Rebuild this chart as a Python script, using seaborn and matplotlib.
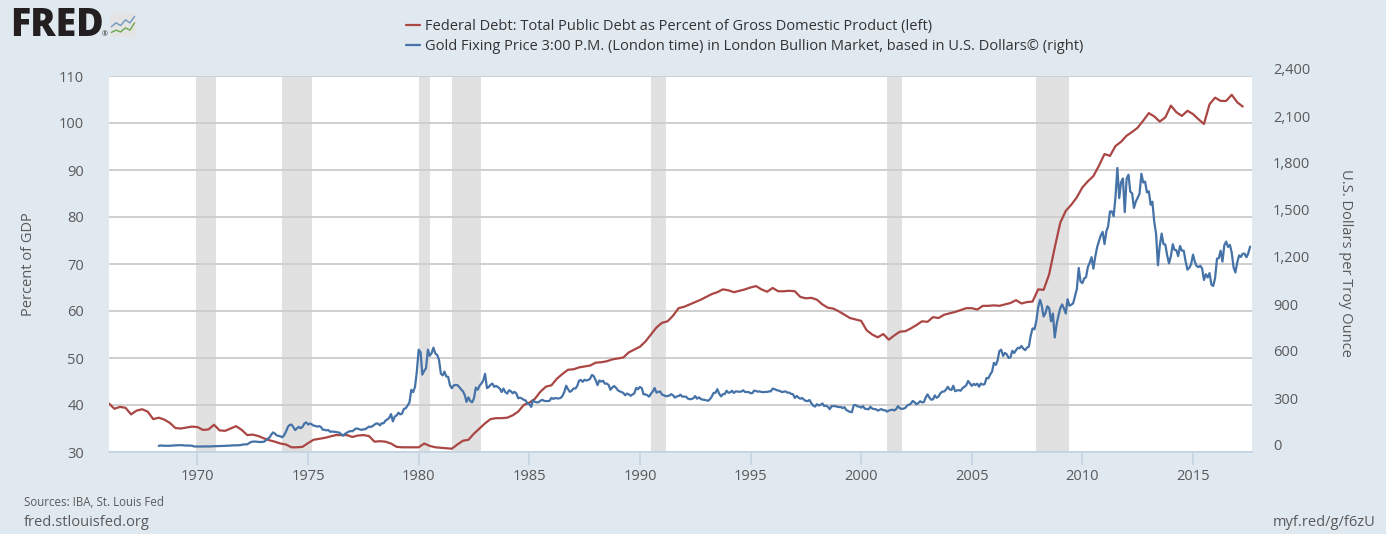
"""FRED-style chart: federal debt as % of GDP vs. London gold fixing price."""

import matplotlib
matplotlib.use("Agg")  # no display
import matplotlib.dates as mdates
import matplotlib.pyplot as plt
import pandas as pd
import seaborn as sns
from matplotlib.ticker import FuncFormatter, MultipleLocator
from matplotlib.transforms import ScaledTranslation

W, H, DPI = 1386, 534, 100

BG = "#e1e9f0"
RED = "#aa4643"
BLUE = "#4572a7"
TEXT = "#595959"
DARK = "#333333"
GRID = "#cccccc"
SHADE = "#e1e1e1"
AXIS = "#c5d3e2"

DEBT_LABEL = "Federal Debt: Total Public Debt as Percent of Gross Domestic Product (left)"
GOLD_LABEL = ("Gold Fixing Price 3:00 P.M. (London time) in London Bullion Market, "
              "based in U.S. Dollars\u00a9 (right)")

# Federal debt, % of GDP, quarterly from 1966Q1 (one row per year)
DEBT_START = "1966-01-01"
DEBT_PCT = [
    40.3, 39.2, 39.6, 39.4,   # 1966
    38.0, 38.8, 39.1, 38.6,   # 1967
    37.0, 37.3, 36.9, 36.2,   # 1968
    35.1, 35.0, 35.2, 35.4,   # 1969
    35.3, 34.7, 34.8, 35.8,   # 1970
    34.6, 34.5, 35.0, 35.5,   # 1971
    34.7, 33.6, 33.7, 33.4,   # 1972
    32.9, 32.5, 32.2, 31.8,   # 1973
    31.6, 31.0, 31.0, 31.1,   # 1974
    31.9, 32.6, 32.8, 33.0,   # 1975
    33.3, 33.6, 33.6, 33.6,   # 1976
    33.2, 33.5, 33.6, 33.4,   # 1977
    32.2, 32.3, 32.2, 31.8,   # 1978
    31.1, 31.0, 31.0, 31.0,   # 1979
    31.0, 31.8, 31.3, 31.0,   # 1980
    30.9, 30.8, 30.7, 31.6,   # 1981
    32.4, 32.6, 33.9, 35.0,   # 1982
    36.1, 37.0, 37.2, 37.2,   # 1983
    37.3, 37.8, 38.6, 40.0,   # 1984
    40.5, 41.3, 42.8, 43.9,   # 1985
    44.2, 45.6, 46.6, 47.5,   # 1986
    47.6, 48.0, 48.2, 48.4,   # 1987
    49.0, 49.1, 49.3, 49.7,   # 1988
    49.9, 50.1, 51.2, 51.8,   # 1989
    52.4, 53.5, 55.0, 56.5,   # 1990
    57.5, 57.8, 59.0, 60.6,   # 1991
    60.9, 61.4, 61.9, 62.4,   # 1992
    63.0, 63.6, 64.0, 64.6,   # 1993
    64.4, 64.0, 64.3, 64.6,   # 1994
    65.0, 65.3, 64.6, 64.1,   # 1995
    64.9, 64.2, 64.2, 64.3,   # 1996
    64.2, 63.0, 62.7, 62.8,   # 1997
    62.4, 61.4, 60.7, 60.5,   # 1998
    59.9, 59.2, 58.5, 58.2,   # 1999
    57.9, 55.9, 55.0, 54.4,   # 2000
    55.1, 53.9, 54.8, 55.6,   # 2001
    55.7, 56.3, 57.0, 57.8,   # 2002
    57.7, 58.7, 58.5, 59.2,   # 2003
    59.5, 59.8, 60.2, 60.6,   # 2004
    60.6, 60.3, 61.1, 61.1,   # 2005
    61.2, 61.1, 61.4, 61.7,   # 2006
    62.3, 61.6, 61.9, 62.0,   # 2007
    64.6, 64.5, 67.8, 73.5,   # 2008
    78.8, 81.3, 82.6, 84.2,   # 2009
    86.3, 87.6, 88.7, 90.9,   # 2010
    93.4, 93.0, 95.1, 96.0,   # 2011
    97.3, 98.1, 99.0, 100.5,  # 2012
    102.1, 101.4, 100.3, 101.2,  # 2013
    103.7, 102.3, 101.5, 102.6,  # 2014
    101.9, 100.8, 99.8, 104.0,   # 2015
    105.4, 104.7, 104.7, 106.0,  # 2016
    104.4, 103.5,                # 2017
]

# Gold fixing price, USD per troy ounce, monthly from 1968-04
GOLD_START = "1968-04-01"
GOLD_USD = [
    39.0, 41.5, 41.0, 39.5, 39.8, 39.9, 39.5, 41.0, 41.9,                 # 1968
    42.5, 42.8, 43.3, 43.3, 43.5, 41.0, 41.8, 41.0, 40.5, 40.4, 35.5, 35.2,  # 1969
    34.9, 35.0, 35.2, 35.8, 35.9, 35.5, 35.3, 35.4, 36.2, 37.5, 37.4, 37.4,  # 1970
    38.0, 38.7, 38.9, 39.0, 40.5, 40.1, 41.0, 42.7, 42.0, 42.5, 42.9, 43.6,  # 1971
    46.0, 48.3, 48.3, 49.0, 56.0, 64.0, 66.0, 67.0, 65.5, 65.0, 63.0, 64.9,  # 1972
    65.1, 74.2, 84.4, 91.0, 110.0, 125.0, 118.0, 106.0, 103.0, 100.0, 94.0, 106.7,  # 1973
    130.0, 160.0, 172.0, 175.0, 160.0, 140.0, 150.0, 161.0, 152.0, 160.0, 182.0, 189.0,  # 1974
    176.0, 182.0, 177.0, 168.0, 167.0, 162.0, 165.0, 160.0, 142.0, 142.0, 138.0, 140.0,  # 1975
    129.0, 131.0, 129.0, 128.0, 125.0, 124.0, 113.0, 104.0, 116.0, 123.0, 130.0, 134.0,  # 1976
    132.0, 142.0, 150.0, 149.0, 144.0, 141.0, 145.0, 145.0, 154.0, 162.0, 160.0, 165.0,  # 1977
    175.0, 182.0, 181.0, 170.0, 184.0, 183.0, 200.0, 208.0, 218.0, 242.0, 195.0, 226.0,  # 1978
    233.0, 251.0, 240.0, 245.0, 275.0, 279.0, 296.0, 315.0, 397.0, 382.0, 415.0, 512.0,  # 1979
    653.0, 637.0, 494.0, 518.0, 535.0, 653.0, 614.0, 631.0, 666.0, 629.0, 619.0, 590.0,  # 1980
    500.0, 489.0, 513.0, 482.0, 480.0, 426.0, 407.0, 425.0, 428.0, 427.0, 414.0, 400.0,  # 1981
    387.0, 362.0, 320.0, 349.0, 325.0, 317.0, 342.0, 411.0, 397.0, 423.0, 437.0, 456.0,  # 1982
    499.0, 408.0, 414.0, 429.0, 437.0, 416.0, 422.0, 414.0, 405.0, 383.0, 405.0, 382.0,  # 1983
    373.0, 394.0, 388.0, 375.0, 384.0, 373.0, 343.0, 347.0, 341.0, 333.0, 329.0, 309.0,  # 1984
    306.0, 288.0, 330.0, 321.0, 317.0, 317.0, 327.0, 333.0, 326.0, 325.0, 325.0, 327.0,  # 1985
    345.0, 339.0, 345.0, 342.0, 342.0, 345.0, 357.0, 383.0, 423.0, 401.0, 384.0, 391.0,  # 1986
    406.0, 405.0, 420.0, 455.0, 460.0, 448.0, 461.0, 456.0, 460.0, 468.0, 492.0, 484.0,  # 1987
    458.0, 427.0, 457.0, 449.0, 455.0, 436.0, 437.0, 428.0, 397.0, 412.0, 421.0, 410.0,  # 1988
    394.0, 387.0, 383.0, 377.0, 362.0, 373.0, 368.0, 359.0, 367.0, 375.0, 409.0, 401.0,  # 1989
    415.0, 407.0, 368.0, 368.0, 363.0, 353.0, 372.0, 387.0, 408.0, 379.0, 384.0, 386.0,  # 1990
    366.0, 362.0, 356.0, 358.0, 360.0, 369.0, 362.0, 347.0, 355.0, 357.0, 366.0, 353.0,  # 1991
    354.0, 353.0, 341.0, 337.0, 338.0, 343.0, 357.0, 340.0, 349.0, 339.0, 334.0, 333.0,  # 1992
    330.0, 327.0, 337.0, 354.0, 377.0, 378.0, 401.0, 372.0, 355.0, 369.0, 370.0, 391.0,  # 1993
    378.0, 381.0, 391.0, 377.0, 387.0, 386.0, 384.0, 386.0, 394.0, 383.0, 383.0, 383.0,  # 1994
    375.0, 376.0, 392.0, 389.0, 385.0, 387.0, 383.0, 382.0, 384.0, 383.0, 387.0, 387.0,  # 1995
    405.0, 401.0, 396.0, 392.0, 390.0, 382.0, 385.0, 387.0, 379.0, 379.0, 371.0, 369.0,  # 1996
    345.0, 358.0, 348.0, 340.0, 345.0, 334.0, 326.0, 325.0, 332.0, 311.0, 296.0, 290.0,  # 1997
    305.0, 297.0, 301.0, 310.0, 293.0, 296.0, 288.0, 273.0, 294.0, 292.0, 294.0, 288.0,  # 1998
    287.0, 287.0, 280.0, 286.0, 268.0, 262.0, 256.0, 254.0, 299.0, 300.0, 291.0, 290.0,  # 1999
    283.0, 293.0, 276.0, 275.0, 272.0, 289.0, 277.0, 274.0, 273.0, 264.0, 269.0, 274.0,  # 2000
    266.0, 267.0, 258.0, 264.0, 268.0, 270.0, 265.0, 274.0, 293.0, 279.0, 275.0, 277.0,  # 2001
    282.0, 297.0, 302.0, 308.0, 326.0, 318.0, 304.0, 312.0, 324.0, 317.0, 318.0, 347.0,  # 2002
    368.0, 347.0, 334.0, 336.0, 361.0, 346.0, 354.0, 375.0, 385.0, 386.0, 398.0, 416.0,  # 2003
    399.0, 396.0, 423.0, 388.0, 393.0, 395.0, 391.0, 408.0, 416.0, 426.0, 453.0, 438.0,  # 2004
    422.0, 435.0, 427.0, 436.0, 417.0, 437.0, 430.0, 433.0, 473.0, 470.0, 495.0, 513.0,  # 2005
    569.0, 556.0, 582.0, 644.0, 653.0, 613.0, 633.0, 623.0, 600.0, 604.0, 646.0, 632.0,  # 2006
    650.0, 665.0, 662.0, 677.0, 660.0, 650.0, 666.0, 673.0, 743.0, 789.0, 783.0, 834.0,  # 2007
    923.0, 971.0, 934.0, 865.0, 886.0, 930.0, 918.0, 834.0, 884.0, 731.0, 815.0, 870.0,  # 2008
    919.0, 942.0, 917.0, 884.0, 975.0, 934.0, 940.0, 949.0, 996.0, 1040.0, 1175.0, 1088.0,  # 2009
    1078.0, 1109.0, 1115.0, 1180.0, 1208.0, 1244.0, 1170.0, 1246.0, 1307.0, 1346.0, 1383.0, 1405.0,  # 2010
    1327.0, 1410.0, 1439.0, 1535.0, 1536.0, 1505.0, 1628.0, 1813.0, 1620.0, 1722.0, 1746.0, 1531.0,  # 2011
    1744.0, 1770.0, 1662.0, 1651.0, 1558.0, 1599.0, 1622.0, 1649.0, 1776.0, 1720.0, 1726.0, 1657.0,  # 2012
    1664.0, 1578.0, 1598.0, 1469.0, 1394.0, 1192.0, 1315.0, 1394.0, 1327.0, 1324.0, 1253.0, 1204.0,  # 2013
    1251.0, 1326.0, 1291.0, 1288.0, 1250.0, 1315.0, 1285.0, 1285.0, 1216.0, 1164.0, 1176.0, 1199.0,  # 2014
    1260.0, 1214.0, 1187.0, 1180.0, 1189.0, 1171.0, 1098.0, 1135.0, 1114.0, 1142.0, 1068.0, 1060.0,  # 2015
    1111.0, 1234.0, 1237.0, 1285.0, 1215.0, 1320.0, 1343.0, 1309.0, 1322.0, 1273.0, 1178.0, 1146.0,  # 2016
    1212.0, 1255.0, 1245.0, 1266.0, 1266.0, 1243.0, 1268.0, 1311.0,                                # 2017
]

# NBER recessions (shaded)
RECESSION_START = ["1969-12-01", "1973-11-01", "1980-01-01", "1981-07-01",
                   "1990-07-01", "2001-03-01", "2007-12-01"]
RECESSION_END = ["1970-11-01", "1975-03-01", "1980-07-01", "1982-11-01",
                 "1991-03-01", "2001-11-01", "2009-06-01"]

X_START, X_END = "1966-01-01", "2017-09-01"

# little FRED logo sparkline (decoration only)
LOGO_X = [0, 1, 2, 3, 4, 5]
LOGO_BLUE = [0.45, 0.62, 0.5, 0.75, 0.62, 0.9]
LOGO_GREEN = [0.2, 0.3, 0.22, 0.4, 0.3, 0.62]


def px(x, y):
    """Pixel position (from top-left) -> figure fraction."""
    return x / W, 1 - y / H


def build_frames():
    debt = pd.DataFrame({
        "date": pd.date_range(DEBT_START, periods=len(DEBT_PCT), freq="QS"),
        "pct": DEBT_PCT,
    })
    gold = pd.DataFrame({
        "date": pd.date_range(GOLD_START, periods=len(GOLD_USD), freq="MS"),
        "usd": GOLD_USD,
    })
    return debt, gold


def draw_logo(fig):
    fig.text(*px(10, 25), "FRED", fontsize=27, fontweight="heavy", color="#231f20",
             ha="left", va="center")
    fig.text(*px(102, 35), "\u00ae", fontsize=5, color="#231f20", ha="left", va="center")
    lx, ly = px(110, 37)
    ax = fig.add_axes([lx, ly, 26 / W, 24 / H])
    ax.set_facecolor("#e4e4e4")
    ax.plot(LOGO_X, LOGO_BLUE, color="#6f98c1", lw=1.0)
    ax.plot(LOGO_X, LOGO_GREEN, color="#6aa84f", lw=1.0)
    ax.set_xlim(-0.3, 5.3)
    ax.set_ylim(0, 1.05)
    ax.set_xticks([])
    ax.set_yticks([])
    for s in ax.spines.values():
        s.set_visible(False)


def main():
    sns.set_theme(style="white")
    plt.rcParams["font.family"] = ["Open Sans", "DejaVu Sans"]

    debt, gold = build_frames()

    fig = plt.figure(figsize=(W / DPI, H / DPI), dpi=DPI, facecolor=BG)
    left, bottom = px(109, 452)
    ax = fig.add_axes([left, bottom, (1252 - 109) / W, (452 - 76) / H])
    ax.set_facecolor("white")
    ax2 = ax.twinx()

    sns.lineplot(data=debt, x="date", y="pct", color=RED, lw=1.6, ax=ax, legend=False)
    sns.lineplot(data=gold, x="date", y="usd", color=BLUE, lw=1.6, ax=ax2, legend=False)
    debt_line, gold_line = ax.lines[0], ax2.lines[0]

    for start, end in zip(RECESSION_START, RECESSION_END):
        ax.axvspan(pd.Timestamp(start), pd.Timestamp(end), color=SHADE, lw=0, zorder=0)

    ax.set_xlim(pd.Timestamp(X_START), pd.Timestamp(X_END))
    ax.set_ylim(30, 110)
    ax2.set_ylim(0, 2400)
    ax.yaxis.set_major_locator(MultipleLocator(10))
    ax2.yaxis.set_major_locator(MultipleLocator(300))
    ax2.yaxis.set_major_formatter(FuncFormatter(lambda v, _: f"{v:,.0f}"))
    ax.xaxis.set_major_locator(mdates.YearLocator(5))
    ax.xaxis.set_major_formatter(mdates.DateFormatter("%Y"))

    ax.grid(axis="y", color=GRID, lw=1.3)
    ax.grid(axis="x", visible=False)
    ax.set_axisbelow(True)

    for a in (ax, ax2):
        for side in ("top", "left", "right", "bottom"):
            a.spines[side].set_visible(False)
        a.set_xlabel("")
        a.set_ylabel("")
    ax.spines["bottom"].set_visible(True)
    ax.spines["bottom"].set_color(AXIS)
    ax.spines["bottom"].set_linewidth(1.2)

    ax.tick_params(axis="x", length=9, width=1.2, color=AXIS, labelsize=10.5,
                   labelcolor=TEXT, pad=3, bottom=True)
    ax.tick_params(axis="y", length=0, labelsize=10.5, labelcolor=TEXT, pad=18, left=True)
    ax2.tick_params(axis="y", length=0, labelsize=10.5, labelcolor=TEXT, pad=15, right=True)
    shift = ScaledTranslation(0, 7 / DPI, fig.dpi_scale_trans)
    for lab in ax2.get_yticklabels():
        lab.set_transform(lab.get_transform() + shift)

    fig.text(*px(28, 264), "Percent of GDP", rotation=90, fontsize=10.5, color=TEXT,
             ha="center", va="center")
    fig.text(*px(1345, 263), "U.S. Dollars per Troy Ounce", rotation=270, fontsize=10.5,
             color=TEXT, ha="center", va="center")

    fig.legend([debt_line, gold_line], [DEBT_LABEL, GOLD_LABEL], loc="upper left",
               bbox_to_anchor=px(406, 19), frameon=False, fontsize=10.5,
               handlelength=0.95, handletextpad=0.35, labelspacing=0.35,
               borderpad=0, borderaxespad=0, labelcolor=DARK)

    fig.text(*px(24, 502), "Sources: IBA, St. Louis Fed", fontsize=8.3, color=TEXT,
             ha="left", va="center")
    fig.text(*px(24, 523), "fred.stlouisfed.org", fontsize=10.5, color=TEXT,
             ha="left", va="center")
    fig.text(*px(1376, 523), "myf.red/g/f6zU", fontsize=10.5, color=TEXT,
             ha="right", va="center")

    draw_logo(fig)

    fig.savefig("out.png", dpi=DPI, facecolor=BG)
    plt.close(fig)


if __name__ == "__main__":
    main()
